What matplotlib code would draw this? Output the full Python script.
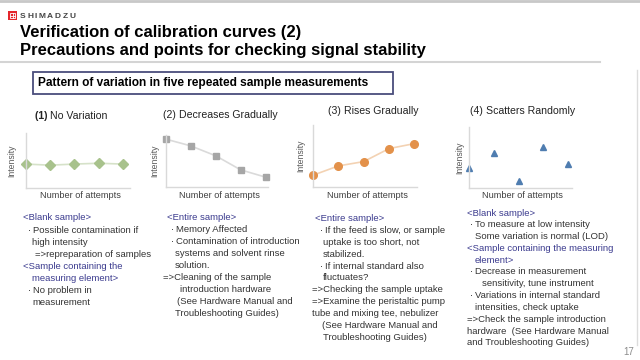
import numpy as np
import matplotlib
matplotlib.use('Agg')
from matplotlib import pyplot as plt
from matplotlib.patches import Rectangle

plt.rcParams['font.family'] = ['Liberation Sans', 'DejaVu Sans']

W, H = 640.0, 360.0

# data (relative intensity, 0-10 scale)
attempts = [1, 2, 3, 4, 5]
no_variation = [4.35, 4.15, 4.35, 4.5, 4.35]
decreases = [9.2, 7.9, 6.0, 3.3, 1.9]
rises = [1.9, 3.4, 4.1, 6.2, 7.0]
scatters = [3.3, 5.7, 1.1, 6.7, 3.9]

chart_nums = ['(1)', '(2)', '(3)', '(4)']
chart_names = ['No Variation', 'Decreases Gradually', 'Rises Gradually', 'Scatters Randomly']
x_label = 'Number of attempts'
y_label = 'Intensity'

title1 = 'Verification of calibration curves (2)'
title2 = 'Precautions and points for checking signal stability'
box_text = 'Pattern of variation in five repeated sample measurements'
logo_text = 'SHIMADZU'
page_no = '17'

BLUE = '#3b3b8e'
DARK = '#333333'

# notes: (x px, is_header, has_bullet, text)
notes1 = [
    (23, True, False, '<Blank sample>'),
    (28, False, True, 'Possible contamination if'),
    (32, False, False, 'high intensity'),
    (35, False, False, '=>repreparation of samples'),
    (23, True, False, '<Sample containing the'),
    (32, True, False, 'measuring element>'),
    (28, False, True, 'No problem in'),
    (32, False, False, 'measurement'),
]
notes2 = [
    (167, True, False, '<Entire sample>'),
    (171, False, True, 'Memory Affected'),
    (171, False, True, 'Contamination of introduction'),
    (175, False, False, 'systems and solvent rinse'),
    (175, False, False, 'solution.'),
    (163, False, False, '=>Cleaning of the sample'),
    (180, False, False, 'introduction hardware'),
    (177, False, False, '(See Hardware Manual and'),
    (175, False, False, 'Troubleshooting Guides)'),
]
notes3 = [
    (315, True, False, '<Entire sample>'),
    (320, False, True, 'If the feed is slow, or sample'),
    (323, False, False, 'uptake is too short, not'),
    (323, False, False, 'stabilized.'),
    (320, False, True, 'If internal standard also'),
    (323, False, False, 'fluctuates?'),
    (312, False, False, '=>Checking the sample uptake'),
    (312, False, False, '=>Examine the peristaltic pump'),
    (312, False, False, 'tube and mixing tee, nebulizer'),
    (322, False, False, '(See Hardware Manual and'),
    (323, False, False, 'Troubleshooting Guides)'),
]
notes4 = [
    (467, True, False, '<Blank sample>'),
    (470, False, True, 'To measure at low intensity'),
    (475, False, False, 'Some variation is normal (LOD)'),
    (467, True, False, '<Sample containing the measuring'),
    (475, True, False, 'element>'),
    (470, False, True, 'Decrease in measurement'),
    (482, False, False, 'sensitivity, tune instrument'),
    (470, False, True, 'Variations in internal standard'),
    (475, False, False, 'intensities, check uptake'),
    (467, False, False, '=>Check the sample introduction'),
    (467, False, False, 'hardware  (See Hardware Manual'),
    (467, False, False, 'and Troubleshooting Guides)'),
]


def fx(x):
    return x / W


def fy(y):
    return 1 - y / H


fig = plt.figure(figsize=(6.4, 3.6), dpi=100)
fig.patch.set_facecolor('white')
fig.canvas.draw()
renderer = fig.canvas.get_renderer()

# header decoration
fig.add_artist(plt.Line2D([0, 1], [fy(1), fy(1)], color='#c8c8c8', lw=2))
fig.add_artist(plt.Line2D([0, fx(600)], [fy(62), fy(62)], color='#d4d4d4', lw=1.5))
fig.add_artist(plt.Line2D([fx(637), fx(637)], [fy(70), fy(345)], color='#dcdcdc', lw=1))

# logo
fig.add_artist(Rectangle((fx(8), fy(20)), 9 / W, 9 / H, facecolor='#e4262c', edgecolor='none'))
fig.add_artist(Rectangle((fx(10), fy(18)), 5 / W, 5 / H, facecolor='none', edgecolor='white', lw=0.6))
fig.add_artist(plt.Line2D([fx(12.5), fx(12.5)], [fy(18), fy(13)], color='white', lw=0.6))
fig.add_artist(plt.Line2D([fx(10), fx(15)], [fy(15.5), fy(15.5)], color='white', lw=0.6))
lx = 20.0
for ch in logo_text:
    t = fig.text(fx(lx), fy(16), ch, fontsize=6, fontweight='bold', color='#444444', va='center')
    lx += t.get_window_extent(renderer).width + 1.6

fig.text(fx(20), fy(32), title1, fontsize=12, fontweight='bold', color='black', va='center')
fig.text(fx(20), fy(51), title2, fontsize=12, fontweight='bold', color='black', va='center')

fig.add_artist(Rectangle((fx(33), fy(94)), 360 / W, 22 / H, facecolor='white',
                         edgecolor='#4a4d7c', lw=1.3))
fig.text(fx(38), fy(83), box_text, fontsize=8.6, fontweight='bold', color='black', va='center')

# charts: (left, right, top, bottom) px
boxes = [(26, 130, 133, 188), (166, 268, 135, 187), (313, 417, 125, 187), (469, 572, 127, 188)]
xmax = [5.3, 5.1, 5.1, 5.15]
series = [no_variation, decreases, rises, scatters]
markers = ['D', 's', 'o', '^']
mcolors = ['#a8c28c', '#a6a6a6', '#e3914a', '#4f7db0']
lcolors = ['#d6e2c9', '#dadada', '#f3d2b3', None]
msizes = [5, 5, 5.5, 5]
title_pos = [(35, 116), (163, 115), (328, 111), (470, 111)]
ylabel_x = [12, 155, 301, 460]

for i in range(4):
    l, r, t, b = boxes[i]
    ax = fig.add_axes([fx(l), fy(b), (r - l) / W, (b - t) / H])
    ax.set_xlim(1, xmax[i])
    ax.set_ylim(0, 10)
    if lcolors[i]:
        ax.plot(attempts, series[i], color=lcolors[i], lw=1.2, zorder=1, clip_on=False)
    ax.plot(attempts, series[i], ls='none', marker=markers[i], ms=msizes[i],
            color=mcolors[i], mec=mcolors[i], zorder=2, clip_on=False)
    for s in ['top', 'right']:
        ax.spines[s].set_visible(False)
    for s in ['left', 'bottom']:
        ax.spines[s].set_color('#d9d9d9')
        ax.spines[s].set_linewidth(1)
    ax.set_xticks([])
    ax.set_yticks([])
    ax.patch.set_alpha(0)

    fig.text(fx(ylabel_x[i]), fy((t + b) / 2), y_label, rotation=90, fontsize=6.2,
             color='#595959', ha='center', va='center')
    fig.text(fx((l + r) / 2 + 2), fy(195), x_label, fontsize=6.6, color='#404040',
             ha='center', va='center')

    tx, ty = title_pos[i]
    weight = 'bold' if i == 0 else 'normal'
    t1 = fig.text(fx(tx), fy(ty), chart_nums[i] + ' ', fontsize=7.6, fontweight=weight,
                  color='#222222', va='center')
    bb = t1.get_window_extent(renderer)
    fig.text(bb.x1 / W, fy(ty), chart_names[i], fontsize=7.6, color='#222222', va='center')

starts = [218, 218, 219, 213]
steps = [12.1, 11.9, 11.8, 11.8]
for notes, y0, dy in zip([notes1, notes2, notes3, notes4], starts, steps):
    for k, (x, header, bullet, txt) in enumerate(notes):
        y = y0 + k * dy
        if bullet:
            fig.text(fx(x), fy(y), '\u00b7', fontsize=6.8, color=DARK, va='center')
            fig.text(fx(x + 5), fy(y), txt, fontsize=6.8, color=DARK, va='center')
        else:
            fig.text(fx(x), fy(y), txt, fontsize=6.8, color=BLUE if header else DARK,
                     va='center')

fig.text(fx(629), fy(352), page_no, fontsize=7, color='#8c8c8c', ha='center', va='center')

fig.savefig('out.png', dpi=100)
